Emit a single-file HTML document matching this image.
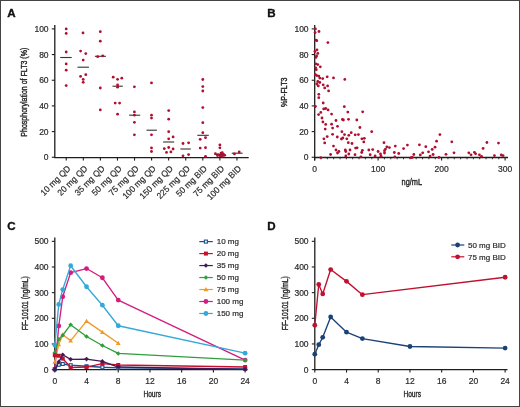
<!DOCTYPE html>
<html><head><meta charset="utf-8"><style>
html,body{margin:0;padding:0;background:#fff;}
body{width:520px;height:407px;overflow:hidden;}
#f{position:absolute;left:0;top:0;width:518px;height:405px;border:1px solid #444;background:#fff;}
svg{position:absolute;left:0;top:0;will-change:transform;}
text{font-family:"Liberation Sans", sans-serif;}
.c{font-size:9.5px;fill:#262626;stroke:#262626;stroke-width:0.4px;}
.t{stroke:#2a2a2a;stroke-width:0.2px;}
</style></head><body><div id="f"></div>
<svg width="520" height="407" viewBox="0 0 520 407" font-family='"Liberation Sans", sans-serif'>
<text x="7.2" y="17.3" font-size="11.6" font-weight="bold" fill="#111" stroke="#111" stroke-width="0.35">A</text>
<line x1="54.8" y1="25" x2="54.8" y2="157.9" stroke="#1e1e1e" stroke-width="1.3"/>
<line x1="51.8" y1="157.25" x2="54.8" y2="157.25" stroke="#1e1e1e" stroke-width="1.1"/>
<text x="48.6" y="160.25" font-size="8.5" text-anchor="end" fill="#2a2a2a" class="t">0</text>
<line x1="51.8" y1="131.58" x2="54.8" y2="131.58" stroke="#1e1e1e" stroke-width="1.1"/>
<text x="48.6" y="134.58" font-size="8.5" text-anchor="end" fill="#2a2a2a" class="t">20</text>
<line x1="51.8" y1="105.91" x2="54.8" y2="105.91" stroke="#1e1e1e" stroke-width="1.1"/>
<text x="48.6" y="108.91" font-size="8.5" text-anchor="end" fill="#2a2a2a" class="t">40</text>
<line x1="51.8" y1="80.24" x2="54.8" y2="80.24" stroke="#1e1e1e" stroke-width="1.1"/>
<text x="48.6" y="83.24" font-size="8.5" text-anchor="end" fill="#2a2a2a" class="t">60</text>
<line x1="51.8" y1="54.57" x2="54.8" y2="54.57" stroke="#1e1e1e" stroke-width="1.1"/>
<text x="48.6" y="57.57" font-size="8.5" text-anchor="end" fill="#2a2a2a" class="t">80</text>
<line x1="51.8" y1="28.9" x2="54.8" y2="28.9" stroke="#1e1e1e" stroke-width="1.1"/>
<text x="48.6" y="31.9" font-size="8.5" text-anchor="end" fill="#2a2a2a" class="t">100</text>
<line x1="54.2" y1="157.6" x2="248.7" y2="157.6" stroke="#1e1e1e" stroke-width="1.3"/>
<line x1="66.25" y1="157.6" x2="66.25" y2="160.6" stroke="#1e1e1e" stroke-width="1.1"/>
<text transform="translate(71.05,169.1) rotate(-45)" font-size="8.7" text-anchor="end" fill="#2a2a2a" class="t" textLength="38.26" lengthAdjust="spacingAndGlyphs">10 mg QD</text>
<line x1="83.32" y1="157.6" x2="83.32" y2="160.6" stroke="#1e1e1e" stroke-width="1.1"/>
<text transform="translate(88.12,169.1) rotate(-45)" font-size="8.7" text-anchor="end" fill="#2a2a2a" class="t" textLength="38.26" lengthAdjust="spacingAndGlyphs">20 mg QD</text>
<line x1="100.39" y1="157.6" x2="100.39" y2="160.6" stroke="#1e1e1e" stroke-width="1.1"/>
<text transform="translate(105.19,169.1) rotate(-45)" font-size="8.7" text-anchor="end" fill="#2a2a2a" class="t" textLength="38.26" lengthAdjust="spacingAndGlyphs">35 mg QD</text>
<line x1="117.46" y1="157.6" x2="117.46" y2="160.6" stroke="#1e1e1e" stroke-width="1.1"/>
<text transform="translate(122.26,169.1) rotate(-45)" font-size="8.7" text-anchor="end" fill="#2a2a2a" class="t" textLength="38.26" lengthAdjust="spacingAndGlyphs">50 mg QD</text>
<line x1="134.53" y1="157.6" x2="134.53" y2="160.6" stroke="#1e1e1e" stroke-width="1.1"/>
<text transform="translate(139.33,169.1) rotate(-45)" font-size="8.7" text-anchor="end" fill="#2a2a2a" class="t" textLength="38.26" lengthAdjust="spacingAndGlyphs">75 mg QD</text>
<line x1="151.6" y1="157.6" x2="151.6" y2="160.6" stroke="#1e1e1e" stroke-width="1.1"/>
<text transform="translate(156.4,169.1) rotate(-45)" font-size="8.7" text-anchor="end" fill="#2a2a2a" class="t" textLength="42.93" lengthAdjust="spacingAndGlyphs">100 mg QD</text>
<line x1="168.67" y1="157.6" x2="168.67" y2="160.6" stroke="#1e1e1e" stroke-width="1.1"/>
<text transform="translate(173.47,169.1) rotate(-45)" font-size="8.7" text-anchor="end" fill="#2a2a2a" class="t" textLength="42.93" lengthAdjust="spacingAndGlyphs">150 mg QD</text>
<line x1="185.74" y1="157.6" x2="185.74" y2="160.6" stroke="#1e1e1e" stroke-width="1.1"/>
<text transform="translate(190.54,169.1) rotate(-45)" font-size="8.7" text-anchor="end" fill="#2a2a2a" class="t" textLength="42.93" lengthAdjust="spacingAndGlyphs">225 mg QD</text>
<line x1="202.81" y1="157.6" x2="202.81" y2="160.6" stroke="#1e1e1e" stroke-width="1.1"/>
<text transform="translate(207.61,169.1) rotate(-45)" font-size="8.7" text-anchor="end" fill="#2a2a2a" class="t" textLength="39.66" lengthAdjust="spacingAndGlyphs">50 mg BID</text>
<line x1="219.88" y1="157.6" x2="219.88" y2="160.6" stroke="#1e1e1e" stroke-width="1.1"/>
<text transform="translate(224.68,169.1) rotate(-45)" font-size="8.7" text-anchor="end" fill="#2a2a2a" class="t" textLength="39.66" lengthAdjust="spacingAndGlyphs">75 mg BID</text>
<line x1="236.95" y1="157.6" x2="236.95" y2="160.6" stroke="#1e1e1e" stroke-width="1.1"/>
<text transform="translate(241.75,169.1) rotate(-45)" font-size="8.7" text-anchor="end" fill="#2a2a2a" class="t" textLength="44.33" lengthAdjust="spacingAndGlyphs">100 mg BID</text>
<text transform="translate(27.4,92.2) rotate(-90)" class="c" text-anchor="middle" textLength="89" lengthAdjust="spacingAndGlyphs">Phosphorylation of FLT3 (%)</text>
<line x1="60.2" y1="57.5" x2="71.7" y2="57.5" stroke="#333" stroke-width="1.1"/>
<line x1="77.5" y1="67.2" x2="88.9" y2="67.2" stroke="#333" stroke-width="1.1"/>
<line x1="94.9" y1="56.3" x2="105.9" y2="56.3" stroke="#333" stroke-width="1.1"/>
<line x1="112.5" y1="86.2" x2="122.8" y2="86.2" stroke="#333" stroke-width="1.1"/>
<line x1="129.2" y1="115.2" x2="140.2" y2="115.2" stroke="#333" stroke-width="1.1"/>
<line x1="146.5" y1="130.2" x2="156.9" y2="130.2" stroke="#333" stroke-width="1.1"/>
<line x1="163.1" y1="142" x2="174.2" y2="142" stroke="#333" stroke-width="1.1"/>
<line x1="180.4" y1="149" x2="190.8" y2="149" stroke="#333" stroke-width="1.1"/>
<line x1="197.3" y1="135.3" x2="208.8" y2="135.3" stroke="#333" stroke-width="1.1"/>
<line x1="214.5" y1="154.5" x2="225.2" y2="154.5" stroke="#333" stroke-width="1.1"/>
<line x1="231.8" y1="153.2" x2="242.6" y2="153.2" stroke="#333" stroke-width="1.1"/>
<circle cx="66.2" cy="28.95" r="1.4" fill="#b00e2e"/>
<circle cx="66.2" cy="33.4" r="1.4" fill="#b00e2e"/>
<circle cx="66.2" cy="52" r="1.4" fill="#b00e2e"/>
<circle cx="66.2" cy="63.9" r="1.4" fill="#b00e2e"/>
<circle cx="66.2" cy="70.2" r="1.4" fill="#b00e2e"/>
<circle cx="66.2" cy="85.6" r="1.4" fill="#b00e2e"/>
<circle cx="83" cy="32.9" r="1.4" fill="#b00e2e"/>
<circle cx="80.6" cy="51.1" r="1.4" fill="#b00e2e"/>
<circle cx="85.8" cy="53.6" r="1.4" fill="#b00e2e"/>
<circle cx="83.2" cy="60.1" r="1.4" fill="#b00e2e"/>
<circle cx="80.6" cy="76.4" r="1.4" fill="#b00e2e"/>
<circle cx="85.8" cy="74.7" r="1.4" fill="#b00e2e"/>
<circle cx="83.2" cy="79.4" r="1.4" fill="#b00e2e"/>
<circle cx="83.2" cy="82.3" r="1.4" fill="#b00e2e"/>
<circle cx="100.3" cy="31.7" r="1.4" fill="#b00e2e"/>
<circle cx="100.3" cy="41.2" r="1.4" fill="#b00e2e"/>
<circle cx="97.7" cy="56.7" r="1.4" fill="#b00e2e"/>
<circle cx="102.7" cy="55.8" r="1.4" fill="#b00e2e"/>
<circle cx="100.3" cy="88" r="1.4" fill="#b00e2e"/>
<circle cx="100.3" cy="109.9" r="1.4" fill="#b00e2e"/>
<circle cx="113.2" cy="77.2" r="1.4" fill="#b00e2e"/>
<circle cx="117.6" cy="79.3" r="1.4" fill="#b00e2e"/>
<circle cx="121.8" cy="78.2" r="1.4" fill="#b00e2e"/>
<circle cx="117.6" cy="85" r="1.4" fill="#b00e2e"/>
<circle cx="117.6" cy="87.2" r="1.4" fill="#b00e2e"/>
<circle cx="115.2" cy="103.1" r="1.4" fill="#b00e2e"/>
<circle cx="119.6" cy="103.1" r="1.4" fill="#b00e2e"/>
<circle cx="117.6" cy="114.2" r="1.4" fill="#b00e2e"/>
<circle cx="134.4" cy="86.8" r="1.4" fill="#b00e2e"/>
<circle cx="134.4" cy="111.9" r="1.4" fill="#b00e2e"/>
<circle cx="134.4" cy="115.2" r="1.4" fill="#b00e2e"/>
<circle cx="134.4" cy="122.3" r="1.4" fill="#b00e2e"/>
<circle cx="134.4" cy="134.8" r="1.4" fill="#b00e2e"/>
<circle cx="151.5" cy="82.9" r="1.4" fill="#b00e2e"/>
<circle cx="151.5" cy="115.2" r="1.4" fill="#b00e2e"/>
<circle cx="151.5" cy="118.1" r="1.4" fill="#b00e2e"/>
<circle cx="151.5" cy="134.8" r="1.4" fill="#b00e2e"/>
<circle cx="151.5" cy="147.9" r="1.4" fill="#b00e2e"/>
<circle cx="151.5" cy="151.5" r="1.4" fill="#b00e2e"/>
<circle cx="168.7" cy="110.6" r="1.4" fill="#b00e2e"/>
<circle cx="168.7" cy="119.2" r="1.4" fill="#b00e2e"/>
<circle cx="168.7" cy="131.7" r="1.4" fill="#b00e2e"/>
<circle cx="173.1" cy="136.9" r="1.4" fill="#b00e2e"/>
<circle cx="168.7" cy="138.8" r="1.4" fill="#b00e2e"/>
<circle cx="164.3" cy="148.7" r="1.4" fill="#b00e2e"/>
<circle cx="168.7" cy="147.5" r="1.4" fill="#b00e2e"/>
<circle cx="173.1" cy="149" r="1.4" fill="#b00e2e"/>
<circle cx="166.5" cy="152.4" r="1.4" fill="#b00e2e"/>
<circle cx="170.9" cy="151.9" r="1.4" fill="#b00e2e"/>
<circle cx="183" cy="143.5" r="1.4" fill="#b00e2e"/>
<circle cx="188.6" cy="142.8" r="1.4" fill="#b00e2e"/>
<circle cx="183" cy="155.8" r="1.4" fill="#b00e2e"/>
<circle cx="188.6" cy="154.6" r="1.4" fill="#b00e2e"/>
<circle cx="202.8" cy="79.5" r="1.4" fill="#b00e2e"/>
<circle cx="202.8" cy="86.6" r="1.4" fill="#b00e2e"/>
<circle cx="202.8" cy="91" r="1.4" fill="#b00e2e"/>
<circle cx="202.8" cy="107.6" r="1.4" fill="#b00e2e"/>
<circle cx="202.8" cy="122.7" r="1.4" fill="#b00e2e"/>
<circle cx="202.8" cy="132.7" r="1.4" fill="#b00e2e"/>
<circle cx="200.2" cy="139.3" r="1.4" fill="#b00e2e"/>
<circle cx="205.5" cy="137.7" r="1.4" fill="#b00e2e"/>
<circle cx="200.2" cy="148.1" r="1.4" fill="#b00e2e"/>
<circle cx="205.5" cy="147.7" r="1.4" fill="#b00e2e"/>
<circle cx="205.5" cy="156.3" r="1.4" fill="#b00e2e"/>
<circle cx="219.9" cy="144.9" r="1.4" fill="#b00e2e"/>
<circle cx="219.9" cy="147.8" r="1.4" fill="#b00e2e"/>
<circle cx="215.4" cy="153.6" r="1.4" fill="#b00e2e"/>
<circle cx="218" cy="154.7" r="1.4" fill="#b00e2e"/>
<circle cx="221" cy="153.2" r="1.4" fill="#b00e2e"/>
<circle cx="222.3" cy="152.7" r="1.4" fill="#b00e2e"/>
<circle cx="223.6" cy="154.5" r="1.4" fill="#b00e2e"/>
<circle cx="220" cy="155.8" r="1.4" fill="#b00e2e"/>
<circle cx="224.7" cy="155.3" r="1.4" fill="#b00e2e"/>
<circle cx="222.3" cy="156.2" r="1.4" fill="#b00e2e"/>
<circle cx="217.5" cy="155.5" r="1.4" fill="#b00e2e"/>
<circle cx="234.4" cy="153.9" r="1.4" fill="#b00e2e"/>
<circle cx="239.2" cy="152" r="1.4" fill="#b00e2e"/>
<text x="267.2" y="17.3" font-size="11.6" font-weight="bold" fill="#111" stroke="#111" stroke-width="0.35">B</text>
<line x1="314.7" y1="25" x2="314.7" y2="160.5" stroke="#1e1e1e" stroke-width="1.3"/>
<line x1="311.7" y1="157.25" x2="314.7" y2="157.25" stroke="#1e1e1e" stroke-width="1.1"/>
<text x="308.6" y="160.25" font-size="8.5" text-anchor="end" fill="#2a2a2a" class="t">0</text>
<line x1="311.7" y1="131.58" x2="314.7" y2="131.58" stroke="#1e1e1e" stroke-width="1.1"/>
<text x="308.6" y="134.58" font-size="8.5" text-anchor="end" fill="#2a2a2a" class="t">20</text>
<line x1="311.7" y1="105.91" x2="314.7" y2="105.91" stroke="#1e1e1e" stroke-width="1.1"/>
<text x="308.6" y="108.91" font-size="8.5" text-anchor="end" fill="#2a2a2a" class="t">40</text>
<line x1="311.7" y1="80.24" x2="314.7" y2="80.24" stroke="#1e1e1e" stroke-width="1.1"/>
<text x="308.6" y="83.24" font-size="8.5" text-anchor="end" fill="#2a2a2a" class="t">60</text>
<line x1="311.7" y1="54.57" x2="314.7" y2="54.57" stroke="#1e1e1e" stroke-width="1.1"/>
<text x="308.6" y="57.57" font-size="8.5" text-anchor="end" fill="#2a2a2a" class="t">80</text>
<line x1="311.7" y1="28.9" x2="314.7" y2="28.9" stroke="#1e1e1e" stroke-width="1.1"/>
<text x="308.6" y="31.9" font-size="8.5" text-anchor="end" fill="#2a2a2a" class="t">100</text>
<line x1="314" y1="157.5" x2="508" y2="157.5" stroke="#1e1e1e" stroke-width="1.3"/>
<line x1="314.6" y1="157.5" x2="314.6" y2="160.5" stroke="#1e1e1e" stroke-width="1.1"/>
<line x1="320.95" y1="157.5" x2="320.95" y2="159.3" stroke="#1e1e1e" stroke-width="0.9"/>
<line x1="327.3" y1="157.5" x2="327.3" y2="159.3" stroke="#1e1e1e" stroke-width="0.9"/>
<line x1="333.65" y1="157.5" x2="333.65" y2="159.3" stroke="#1e1e1e" stroke-width="0.9"/>
<line x1="340" y1="157.5" x2="340" y2="159.3" stroke="#1e1e1e" stroke-width="0.9"/>
<line x1="346.35" y1="157.5" x2="346.35" y2="159.3" stroke="#1e1e1e" stroke-width="0.9"/>
<line x1="352.7" y1="157.5" x2="352.7" y2="159.3" stroke="#1e1e1e" stroke-width="0.9"/>
<line x1="359.05" y1="157.5" x2="359.05" y2="159.3" stroke="#1e1e1e" stroke-width="0.9"/>
<line x1="365.4" y1="157.5" x2="365.4" y2="159.3" stroke="#1e1e1e" stroke-width="0.9"/>
<line x1="371.75" y1="157.5" x2="371.75" y2="159.3" stroke="#1e1e1e" stroke-width="0.9"/>
<line x1="378.1" y1="157.5" x2="378.1" y2="160.5" stroke="#1e1e1e" stroke-width="1.1"/>
<line x1="384.45" y1="157.5" x2="384.45" y2="159.3" stroke="#1e1e1e" stroke-width="0.9"/>
<line x1="390.8" y1="157.5" x2="390.8" y2="159.3" stroke="#1e1e1e" stroke-width="0.9"/>
<line x1="397.15" y1="157.5" x2="397.15" y2="159.3" stroke="#1e1e1e" stroke-width="0.9"/>
<line x1="403.5" y1="157.5" x2="403.5" y2="159.3" stroke="#1e1e1e" stroke-width="0.9"/>
<line x1="409.85" y1="157.5" x2="409.85" y2="159.3" stroke="#1e1e1e" stroke-width="0.9"/>
<line x1="416.2" y1="157.5" x2="416.2" y2="159.3" stroke="#1e1e1e" stroke-width="0.9"/>
<line x1="422.55" y1="157.5" x2="422.55" y2="159.3" stroke="#1e1e1e" stroke-width="0.9"/>
<line x1="428.9" y1="157.5" x2="428.9" y2="159.3" stroke="#1e1e1e" stroke-width="0.9"/>
<line x1="435.25" y1="157.5" x2="435.25" y2="159.3" stroke="#1e1e1e" stroke-width="0.9"/>
<line x1="441.6" y1="157.5" x2="441.6" y2="160.5" stroke="#1e1e1e" stroke-width="1.1"/>
<line x1="447.95" y1="157.5" x2="447.95" y2="159.3" stroke="#1e1e1e" stroke-width="0.9"/>
<line x1="454.3" y1="157.5" x2="454.3" y2="159.3" stroke="#1e1e1e" stroke-width="0.9"/>
<line x1="460.65" y1="157.5" x2="460.65" y2="159.3" stroke="#1e1e1e" stroke-width="0.9"/>
<line x1="467" y1="157.5" x2="467" y2="159.3" stroke="#1e1e1e" stroke-width="0.9"/>
<line x1="473.35" y1="157.5" x2="473.35" y2="159.3" stroke="#1e1e1e" stroke-width="0.9"/>
<line x1="479.7" y1="157.5" x2="479.7" y2="159.3" stroke="#1e1e1e" stroke-width="0.9"/>
<line x1="486.05" y1="157.5" x2="486.05" y2="159.3" stroke="#1e1e1e" stroke-width="0.9"/>
<line x1="492.4" y1="157.5" x2="492.4" y2="159.3" stroke="#1e1e1e" stroke-width="0.9"/>
<line x1="498.75" y1="157.5" x2="498.75" y2="159.3" stroke="#1e1e1e" stroke-width="0.9"/>
<line x1="505.1" y1="157.5" x2="505.1" y2="160.5" stroke="#1e1e1e" stroke-width="1.1"/>
<text x="314.6" y="172" font-size="8.5" text-anchor="middle" fill="#2a2a2a" class="t">0</text>
<text x="378.1" y="172" font-size="8.5" text-anchor="middle" fill="#2a2a2a" class="t">100</text>
<text x="441.6" y="172" font-size="8.5" text-anchor="middle" fill="#2a2a2a" class="t">200</text>
<text x="505.1" y="172" font-size="8.5" text-anchor="middle" fill="#2a2a2a" class="t">300</text>
<text x="411.8" y="185" class="c" text-anchor="middle" textLength="20.5" lengthAdjust="spacingAndGlyphs">ng/mL</text>
<text transform="translate(287.4,92.2) rotate(-90)" class="c" text-anchor="middle" textLength="29.5" lengthAdjust="spacingAndGlyphs">%P-FLT3</text>
<circle cx="315.4" cy="28.9" r="1.4" fill="#b00e2e"/>
<circle cx="315.1" cy="32.6" r="1.4" fill="#b00e2e"/>
<circle cx="319" cy="31.5" r="1.4" fill="#b00e2e"/>
<circle cx="315.9" cy="40.2" r="1.4" fill="#b00e2e"/>
<circle cx="316.8" cy="40.7" r="1.4" fill="#b00e2e"/>
<circle cx="327.9" cy="42.6" r="1.4" fill="#b00e2e"/>
<circle cx="317" cy="49.8" r="1.4" fill="#b00e2e"/>
<circle cx="314.9" cy="51.5" r="1.4" fill="#b00e2e"/>
<circle cx="317.8" cy="53.4" r="1.4" fill="#b00e2e"/>
<circle cx="316.6" cy="55.9" r="1.4" fill="#b00e2e"/>
<circle cx="315.9" cy="57.4" r="1.4" fill="#b00e2e"/>
<circle cx="315.9" cy="63.8" r="1.4" fill="#b00e2e"/>
<circle cx="317.8" cy="64.6" r="1.4" fill="#b00e2e"/>
<circle cx="320.3" cy="66.8" r="1.4" fill="#b00e2e"/>
<circle cx="315.7" cy="67.8" r="1.4" fill="#b00e2e"/>
<circle cx="316.3" cy="69.7" r="1.4" fill="#b00e2e"/>
<circle cx="315.4" cy="74.6" r="1.4" fill="#b00e2e"/>
<circle cx="316.8" cy="75.6" r="1.4" fill="#b00e2e"/>
<circle cx="318.8" cy="76.1" r="1.4" fill="#b00e2e"/>
<circle cx="327.2" cy="76.8" r="1.4" fill="#b00e2e"/>
<circle cx="333.5" cy="77.9" r="1.4" fill="#b00e2e"/>
<circle cx="344.8" cy="79.4" r="1.4" fill="#b00e2e"/>
<circle cx="319.8" cy="78.1" r="1.4" fill="#b00e2e"/>
<circle cx="322.7" cy="78.6" r="1.4" fill="#b00e2e"/>
<circle cx="317.8" cy="81.5" r="1.4" fill="#b00e2e"/>
<circle cx="319.8" cy="82.5" r="1.4" fill="#b00e2e"/>
<circle cx="316.8" cy="84" r="1.4" fill="#b00e2e"/>
<circle cx="323.2" cy="84.8" r="1.4" fill="#b00e2e"/>
<circle cx="327.6" cy="85.9" r="1.4" fill="#b00e2e"/>
<circle cx="324.7" cy="87.9" r="1.4" fill="#b00e2e"/>
<circle cx="318.3" cy="85.9" r="1.4" fill="#b00e2e"/>
<circle cx="328.6" cy="90.9" r="1.4" fill="#b00e2e"/>
<circle cx="318.8" cy="94.3" r="1.4" fill="#b00e2e"/>
<circle cx="318.8" cy="97.7" r="1.4" fill="#b00e2e"/>
<circle cx="323.2" cy="103" r="1.4" fill="#b00e2e"/>
<circle cx="315.4" cy="106.5" r="1.4" fill="#b00e2e"/>
<circle cx="323.7" cy="108.9" r="1.4" fill="#b00e2e"/>
<circle cx="325.7" cy="108.5" r="1.4" fill="#b00e2e"/>
<circle cx="328.1" cy="109.9" r="1.4" fill="#b00e2e"/>
<circle cx="344.3" cy="106.7" r="1.4" fill="#b00e2e"/>
<circle cx="320.8" cy="112.4" r="1.4" fill="#b00e2e"/>
<circle cx="318.6" cy="114.6" r="1.4" fill="#b00e2e"/>
<circle cx="331.6" cy="114.1" r="1.4" fill="#b00e2e"/>
<circle cx="347.8" cy="112.1" r="1.4" fill="#b00e2e"/>
<circle cx="322" cy="118" r="1.4" fill="#b00e2e"/>
<circle cx="322.9" cy="121.9" r="1.4" fill="#b00e2e"/>
<circle cx="325.7" cy="124.4" r="1.4" fill="#b00e2e"/>
<circle cx="331.6" cy="124.2" r="1.4" fill="#b00e2e"/>
<circle cx="336" cy="120.5" r="1.4" fill="#b00e2e"/>
<circle cx="342.4" cy="119.5" r="1.4" fill="#b00e2e"/>
<circle cx="343.4" cy="120" r="1.4" fill="#b00e2e"/>
<circle cx="348.5" cy="119.3" r="1.4" fill="#b00e2e"/>
<circle cx="356.8" cy="120" r="1.4" fill="#b00e2e"/>
<circle cx="337.5" cy="126.3" r="1.4" fill="#b00e2e"/>
<circle cx="332.6" cy="128.1" r="1.4" fill="#b00e2e"/>
<circle cx="325.2" cy="129.1" r="1.4" fill="#b00e2e"/>
<circle cx="341.9" cy="131.7" r="1.4" fill="#b00e2e"/>
<circle cx="344.5" cy="134.6" r="1.4" fill="#b00e2e"/>
<circle cx="351.2" cy="132.7" r="1.4" fill="#b00e2e"/>
<circle cx="348.8" cy="135.3" r="1.4" fill="#b00e2e"/>
<circle cx="355.2" cy="134.8" r="1.4" fill="#b00e2e"/>
<circle cx="332.6" cy="134.3" r="1.4" fill="#b00e2e"/>
<circle cx="327.2" cy="136.6" r="1.4" fill="#b00e2e"/>
<circle cx="323.9" cy="138.8" r="1.4" fill="#b00e2e"/>
<circle cx="337.3" cy="137" r="1.4" fill="#b00e2e"/>
<circle cx="341.4" cy="139" r="1.4" fill="#b00e2e"/>
<circle cx="342.9" cy="138" r="1.4" fill="#b00e2e"/>
<circle cx="346.8" cy="138.8" r="1.4" fill="#b00e2e"/>
<circle cx="324.7" cy="142.9" r="1.4" fill="#b00e2e"/>
<circle cx="348.3" cy="142.7" r="1.4" fill="#b00e2e"/>
<circle cx="352" cy="143.5" r="1.4" fill="#b00e2e"/>
<circle cx="333.5" cy="146.1" r="1.4" fill="#b00e2e"/>
<circle cx="336" cy="150" r="1.4" fill="#b00e2e"/>
<circle cx="338.9" cy="151.5" r="1.4" fill="#b00e2e"/>
<circle cx="337.5" cy="153" r="1.4" fill="#b00e2e"/>
<circle cx="345.3" cy="150" r="1.4" fill="#b00e2e"/>
<circle cx="345.8" cy="151.5" r="1.4" fill="#b00e2e"/>
<circle cx="350" cy="150" r="1.4" fill="#b00e2e"/>
<circle cx="355.6" cy="148.1" r="1.4" fill="#b00e2e"/>
<circle cx="357.1" cy="147.8" r="1.4" fill="#b00e2e"/>
<circle cx="330.6" cy="154.5" r="1.4" fill="#b00e2e"/>
<circle cx="348.8" cy="154" r="1.4" fill="#b00e2e"/>
<circle cx="355" cy="154.7" r="1.4" fill="#b00e2e"/>
<circle cx="345.8" cy="155.9" r="1.4" fill="#b00e2e"/>
<circle cx="320.8" cy="157.6" r="1.4" fill="#b00e2e"/>
<circle cx="362.7" cy="111.8" r="1.4" fill="#b00e2e"/>
<circle cx="359.9" cy="127.5" r="1.4" fill="#b00e2e"/>
<circle cx="371.7" cy="131.7" r="1.4" fill="#b00e2e"/>
<circle cx="358.4" cy="134.6" r="1.4" fill="#b00e2e"/>
<circle cx="361.9" cy="138.8" r="1.4" fill="#b00e2e"/>
<circle cx="364.3" cy="138.3" r="1.4" fill="#b00e2e"/>
<circle cx="363.8" cy="141.9" r="1.4" fill="#b00e2e"/>
<circle cx="384" cy="142.7" r="1.4" fill="#b00e2e"/>
<circle cx="395.3" cy="146.1" r="1.4" fill="#b00e2e"/>
<circle cx="386.9" cy="146.8" r="1.4" fill="#b00e2e"/>
<circle cx="389.4" cy="147.6" r="1.4" fill="#b00e2e"/>
<circle cx="385.5" cy="149.1" r="1.4" fill="#b00e2e"/>
<circle cx="384.5" cy="150.7" r="1.4" fill="#b00e2e"/>
<circle cx="384.5" cy="153" r="1.4" fill="#b00e2e"/>
<circle cx="362.4" cy="150.3" r="1.4" fill="#b00e2e"/>
<circle cx="361.7" cy="152.5" r="1.4" fill="#b00e2e"/>
<circle cx="368.8" cy="150" r="1.4" fill="#b00e2e"/>
<circle cx="372.7" cy="149.6" r="1.4" fill="#b00e2e"/>
<circle cx="378.1" cy="151.5" r="1.4" fill="#b00e2e"/>
<circle cx="380.5" cy="154" r="1.4" fill="#b00e2e"/>
<circle cx="370.2" cy="154.7" r="1.4" fill="#b00e2e"/>
<circle cx="375.1" cy="155.9" r="1.4" fill="#b00e2e"/>
<circle cx="381" cy="156.2" r="1.4" fill="#b00e2e"/>
<circle cx="394.3" cy="152.5" r="1.4" fill="#b00e2e"/>
<circle cx="398.7" cy="153.5" r="1.4" fill="#b00e2e"/>
<circle cx="403.6" cy="148.6" r="1.4" fill="#b00e2e"/>
<circle cx="394.8" cy="156.9" r="1.4" fill="#b00e2e"/>
<circle cx="360.9" cy="156.9" r="1.4" fill="#b00e2e"/>
<circle cx="407.4" cy="145.1" r="1.4" fill="#b00e2e"/>
<circle cx="419.4" cy="144.8" r="1.4" fill="#b00e2e"/>
<circle cx="425.8" cy="146.7" r="1.4" fill="#b00e2e"/>
<circle cx="436.6" cy="141.2" r="1.4" fill="#b00e2e"/>
<circle cx="439.9" cy="134.6" r="1.4" fill="#b00e2e"/>
<circle cx="451.8" cy="141.8" r="1.4" fill="#b00e2e"/>
<circle cx="435" cy="147.2" r="1.4" fill="#b00e2e"/>
<circle cx="432.2" cy="149.4" r="1.4" fill="#b00e2e"/>
<circle cx="428.5" cy="151.8" r="1.4" fill="#b00e2e"/>
<circle cx="422.7" cy="152.8" r="1.4" fill="#b00e2e"/>
<circle cx="420.3" cy="154.9" r="1.4" fill="#b00e2e"/>
<circle cx="413.8" cy="154.5" r="1.4" fill="#b00e2e"/>
<circle cx="411" cy="157.7" r="1.4" fill="#b00e2e"/>
<circle cx="412.3" cy="157.4" r="1.4" fill="#b00e2e"/>
<circle cx="430.1" cy="156.1" r="1.4" fill="#b00e2e"/>
<circle cx="433.1" cy="154.5" r="1.4" fill="#b00e2e"/>
<circle cx="439" cy="157.4" r="1.4" fill="#b00e2e"/>
<circle cx="446" cy="154.3" r="1.4" fill="#b00e2e"/>
<circle cx="454" cy="152.8" r="1.4" fill="#b00e2e"/>
<circle cx="468.8" cy="152.8" r="1.4" fill="#b00e2e"/>
<circle cx="471" cy="154.8" r="1.4" fill="#b00e2e"/>
<circle cx="474.4" cy="152.3" r="1.4" fill="#b00e2e"/>
<circle cx="475.6" cy="153.8" r="1.4" fill="#b00e2e"/>
<circle cx="479.4" cy="154.8" r="1.4" fill="#b00e2e"/>
<circle cx="481.5" cy="156.3" r="1.4" fill="#b00e2e"/>
<circle cx="483.1" cy="148.4" r="1.4" fill="#b00e2e"/>
<circle cx="486.9" cy="142.5" r="1.4" fill="#b00e2e"/>
<circle cx="494.4" cy="155.6" r="1.4" fill="#b00e2e"/>
<circle cx="498.5" cy="143.1" r="1.4" fill="#b00e2e"/>
<circle cx="501.3" cy="155" r="1.4" fill="#b00e2e"/>
<circle cx="503.1" cy="155.6" r="1.4" fill="#b00e2e"/>
<text x="7.2" y="230.1" font-size="11.6" font-weight="bold" fill="#111" stroke="#111" stroke-width="0.35">C</text>
<line x1="54.8" y1="237.5" x2="54.8" y2="370.2" stroke="#1e1e1e" stroke-width="1.3"/>
<line x1="51.8" y1="369.6" x2="54.8" y2="369.6" stroke="#1e1e1e" stroke-width="1.1"/>
<text x="48.6" y="372.6" font-size="8.5" text-anchor="end" fill="#2a2a2a" class="t">0</text>
<line x1="51.8" y1="343.95" x2="54.8" y2="343.95" stroke="#1e1e1e" stroke-width="1.1"/>
<text x="48.6" y="346.95" font-size="8.5" text-anchor="end" fill="#2a2a2a" class="t">100</text>
<line x1="51.8" y1="318.3" x2="54.8" y2="318.3" stroke="#1e1e1e" stroke-width="1.1"/>
<text x="48.6" y="321.3" font-size="8.5" text-anchor="end" fill="#2a2a2a" class="t">200</text>
<line x1="51.8" y1="292.65" x2="54.8" y2="292.65" stroke="#1e1e1e" stroke-width="1.1"/>
<text x="48.6" y="295.65" font-size="8.5" text-anchor="end" fill="#2a2a2a" class="t">300</text>
<line x1="51.8" y1="267" x2="54.8" y2="267" stroke="#1e1e1e" stroke-width="1.1"/>
<text x="48.6" y="270" font-size="8.5" text-anchor="end" fill="#2a2a2a" class="t">400</text>
<line x1="51.8" y1="241.35" x2="54.8" y2="241.35" stroke="#1e1e1e" stroke-width="1.1"/>
<text x="48.6" y="244.35" font-size="8.5" text-anchor="end" fill="#2a2a2a" class="t">500</text>
<line x1="54.2" y1="369.6" x2="247.5" y2="369.6" stroke="#1e1e1e" stroke-width="1.3"/>
<line x1="54.8" y1="369.6" x2="54.8" y2="372.6" stroke="#1e1e1e" stroke-width="1.1"/>
<text x="54.8" y="384" font-size="8.5" text-anchor="middle" fill="#2a2a2a" class="t">0</text>
<line x1="86.52" y1="369.6" x2="86.52" y2="372.6" stroke="#1e1e1e" stroke-width="1.1"/>
<text x="86.52" y="384" font-size="8.5" text-anchor="middle" fill="#2a2a2a" class="t">4</text>
<line x1="118.24" y1="369.6" x2="118.24" y2="372.6" stroke="#1e1e1e" stroke-width="1.1"/>
<text x="118.24" y="384" font-size="8.5" text-anchor="middle" fill="#2a2a2a" class="t">8</text>
<line x1="149.96" y1="369.6" x2="149.96" y2="372.6" stroke="#1e1e1e" stroke-width="1.1"/>
<text x="149.96" y="384" font-size="8.5" text-anchor="middle" fill="#2a2a2a" class="t">12</text>
<line x1="181.68" y1="369.6" x2="181.68" y2="372.6" stroke="#1e1e1e" stroke-width="1.1"/>
<text x="181.68" y="384" font-size="8.5" text-anchor="middle" fill="#2a2a2a" class="t">16</text>
<line x1="213.4" y1="369.6" x2="213.4" y2="372.6" stroke="#1e1e1e" stroke-width="1.1"/>
<text x="213.4" y="384" font-size="8.5" text-anchor="middle" fill="#2a2a2a" class="t">20</text>
<line x1="245.12" y1="369.6" x2="245.12" y2="372.6" stroke="#1e1e1e" stroke-width="1.1"/>
<text x="245.12" y="384" font-size="8.5" text-anchor="middle" fill="#2a2a2a" class="t">24</text>
<text x="152.2" y="396.9" class="c" text-anchor="middle" textLength="17.5" lengthAdjust="spacingAndGlyphs">Hours</text>
<text transform="translate(28.2,303.2) rotate(-90)" class="c" text-anchor="middle" textLength="54" lengthAdjust="spacingAndGlyphs">FF-10101 (ng/mL)</text>
<polyline points="54.8,369.6 58.77,326 62.73,296.75 70.66,272.64 86.52,268.54 102.38,277.77 118.24,300.09 245.12,360.11" fill="none" stroke="#d21d7f" stroke-width="1.35" stroke-linejoin="round"/>
<circle cx="54.8" cy="369.6" r="2.4" fill="#d21d7f"/>
<circle cx="58.77" cy="326" r="2.4" fill="#d21d7f"/>
<circle cx="62.73" cy="296.75" r="2.4" fill="#d21d7f"/>
<circle cx="70.66" cy="272.64" r="2.4" fill="#d21d7f"/>
<circle cx="86.52" cy="268.54" r="2.4" fill="#d21d7f"/>
<circle cx="102.38" cy="277.77" r="2.4" fill="#d21d7f"/>
<circle cx="118.24" cy="300.09" r="2.4" fill="#d21d7f"/>
<circle cx="245.12" cy="360.11" r="2.4" fill="#d21d7f"/>
<polyline points="54.8,344.98 58.77,304.45 62.73,289.57 70.66,265.72 86.52,286.75 102.38,305.22 118.24,325.74 245.12,353.18" fill="none" stroke="#34a9d9" stroke-width="1.35" stroke-linejoin="round"/>
<circle cx="54.8" cy="344.98" r="2.4" fill="#34a9d9"/>
<circle cx="58.77" cy="304.45" r="2.4" fill="#34a9d9"/>
<circle cx="62.73" cy="289.57" r="2.4" fill="#34a9d9"/>
<circle cx="70.66" cy="265.72" r="2.4" fill="#34a9d9"/>
<circle cx="86.52" cy="286.75" r="2.4" fill="#34a9d9"/>
<circle cx="102.38" cy="305.22" r="2.4" fill="#34a9d9"/>
<circle cx="118.24" cy="325.74" r="2.4" fill="#34a9d9"/>
<circle cx="245.12" cy="353.18" r="2.4" fill="#34a9d9"/>
<polyline points="54.8,361.91 58.77,344.46 62.73,334.72 70.66,340.62 86.52,321.12 102.38,332.15 118.24,343.18" fill="none" stroke="#f09a2a" stroke-width="1.35" stroke-linejoin="round"/>
<path d="M54.8 359.51L57.2 363.71L52.4 363.71Z" fill="#f09a2a"/>
<path d="M58.77 342.06L61.16 346.26L56.37 346.26Z" fill="#f09a2a"/>
<path d="M62.73 332.32L65.13 336.52L60.33 336.52Z" fill="#f09a2a"/>
<path d="M70.66 338.22L73.06 342.42L68.26 342.42Z" fill="#f09a2a"/>
<path d="M86.52 318.72L88.92 322.92L84.12 322.92Z" fill="#f09a2a"/>
<path d="M102.38 329.75L104.78 333.95L99.98 333.95Z" fill="#f09a2a"/>
<path d="M118.24 340.78L120.64 344.98L115.84 344.98Z" fill="#f09a2a"/>
<polyline points="54.8,352.67 58.77,339.33 62.73,335.23 70.66,324.71 86.52,336.51 102.38,345.49 118.24,353.44 245.12,360.11" fill="none" stroke="#2f9e3c" stroke-width="1.35" stroke-linejoin="round"/>
<path d="M54.8 350.37L57.1 352.67L54.8 354.97L52.5 352.67Z" fill="#2f9e3c"/>
<path d="M58.77 337.03L61.06 339.33L58.77 341.63L56.47 339.33Z" fill="#2f9e3c"/>
<path d="M62.73 332.93L65.03 335.23L62.73 337.53L60.43 335.23Z" fill="#2f9e3c"/>
<path d="M70.66 322.41L72.96 324.71L70.66 327.01L68.36 324.71Z" fill="#2f9e3c"/>
<path d="M86.52 334.21L88.82 336.51L86.52 338.81L84.22 336.51Z" fill="#2f9e3c"/>
<path d="M102.38 343.19L104.68 345.49L102.38 347.79L100.08 345.49Z" fill="#2f9e3c"/>
<path d="M118.24 351.14L120.54 353.44L118.24 355.74L115.94 353.44Z" fill="#2f9e3c"/>
<path d="M245.12 357.81L247.42 360.11L245.12 362.41L242.82 360.11Z" fill="#2f9e3c"/>
<polyline points="54.8,369.09 58.77,364.73 62.73,363.96 70.66,365.24 86.52,366.27 102.38,367.29 118.24,367.8 245.12,368.83" fill="none" stroke="#1d4f8f" stroke-width="1.35" stroke-linejoin="round"/>
<rect x="53.3" y="367.59" width="3" height="3" fill="#fff" stroke="#1d4f8f" stroke-width="1.1"/>
<rect x="57.27" y="363.23" width="3" height="3" fill="#fff" stroke="#1d4f8f" stroke-width="1.1"/>
<rect x="61.23" y="362.46" width="3" height="3" fill="#fff" stroke="#1d4f8f" stroke-width="1.1"/>
<rect x="69.16" y="363.74" width="3" height="3" fill="#fff" stroke="#1d4f8f" stroke-width="1.1"/>
<rect x="85.02" y="364.77" width="3" height="3" fill="#fff" stroke="#1d4f8f" stroke-width="1.1"/>
<rect x="100.88" y="365.79" width="3" height="3" fill="#fff" stroke="#1d4f8f" stroke-width="1.1"/>
<rect x="116.74" y="366.3" width="3" height="3" fill="#fff" stroke="#1d4f8f" stroke-width="1.1"/>
<rect x="243.62" y="367.33" width="3" height="3" fill="#fff" stroke="#1d4f8f" stroke-width="1.1"/>
<polyline points="54.8,355.24 58.77,355.75 62.73,358.57 70.66,367.55 86.52,367.04 102.38,363.7 118.24,364.98 245.12,367.04" fill="none" stroke="#c4102e" stroke-width="1.35" stroke-linejoin="round"/>
<rect x="52.8" y="353.24" width="4" height="4" fill="#c4102e"/>
<rect x="56.77" y="353.75" width="4" height="4" fill="#c4102e"/>
<rect x="60.73" y="356.57" width="4" height="4" fill="#c4102e"/>
<rect x="68.66" y="365.55" width="4" height="4" fill="#c4102e"/>
<rect x="84.52" y="365.04" width="4" height="4" fill="#c4102e"/>
<rect x="100.38" y="361.7" width="4" height="4" fill="#c4102e"/>
<rect x="116.24" y="362.98" width="4" height="4" fill="#c4102e"/>
<rect x="243.12" y="365.04" width="4" height="4" fill="#c4102e"/>
<polyline points="54.8,369.6 58.77,361.91 62.73,354.72 70.66,359.34 86.52,359.08 102.38,361.39 118.24,367.04 245.12,369.34" fill="none" stroke="#431955" stroke-width="1.35" stroke-linejoin="round"/>
<path d="M54.8 367.3L57.1 369.6L54.8 371.9L52.5 369.6Z" fill="#431955"/>
<path d="M58.77 359.61L61.06 361.91L58.77 364.21L56.47 361.91Z" fill="#431955"/>
<path d="M62.73 352.42L65.03 354.72L62.73 357.02L60.43 354.72Z" fill="#431955"/>
<path d="M70.66 357.04L72.96 359.34L70.66 361.64L68.36 359.34Z" fill="#431955"/>
<path d="M86.52 356.78L88.82 359.08L86.52 361.38L84.22 359.08Z" fill="#431955"/>
<path d="M102.38 359.09L104.68 361.39L102.38 363.69L100.08 361.39Z" fill="#431955"/>
<path d="M118.24 364.74L120.54 367.04L118.24 369.34L115.94 367.04Z" fill="#431955"/>
<path d="M245.12 367.04L247.42 369.34L245.12 371.64L242.82 369.34Z" fill="#431955"/>
<line x1="199.3" y1="241.6" x2="212.8" y2="241.6" stroke="#1d4f8f" stroke-width="1.2"/>
<rect x="204.4" y="240.1" width="3" height="3" fill="#fff" stroke="#1d4f8f" stroke-width="1.1"/>
<text x="216.7" y="244.3" font-size="8" fill="#2a2a2a" class="t">10 mg</text>
<line x1="199.3" y1="253.58" x2="212.8" y2="253.58" stroke="#c4102e" stroke-width="1.2"/>
<rect x="203.9" y="251.58" width="4" height="4" fill="#c4102e"/>
<text x="216.7" y="256.28" font-size="8" fill="#2a2a2a" class="t">20 mg</text>
<line x1="199.3" y1="265.56" x2="212.8" y2="265.56" stroke="#431955" stroke-width="1.2"/>
<path d="M205.9 263.26L208.2 265.56L205.9 267.86L203.6 265.56Z" fill="#431955"/>
<text x="216.7" y="268.26" font-size="8" fill="#2a2a2a" class="t">35 mg</text>
<line x1="199.3" y1="277.54" x2="212.8" y2="277.54" stroke="#2f9e3c" stroke-width="1.2"/>
<path d="M205.9 275.24L208.2 277.54L205.9 279.84L203.6 277.54Z" fill="#2f9e3c"/>
<text x="216.7" y="280.24" font-size="8" fill="#2a2a2a" class="t">50 mg</text>
<line x1="199.3" y1="289.52" x2="212.8" y2="289.52" stroke="#f09a2a" stroke-width="1.2"/>
<path d="M205.9 287.12L208.3 291.32L203.5 291.32Z" fill="#f09a2a"/>
<text x="216.7" y="292.22" font-size="8" fill="#2a2a2a" class="t">75 mg</text>
<line x1="199.3" y1="301.5" x2="212.8" y2="301.5" stroke="#d21d7f" stroke-width="1.2"/>
<circle cx="205.9" cy="301.5" r="2.4" fill="#d21d7f"/>
<text x="216.7" y="304.2" font-size="8" fill="#2a2a2a" class="t">100 mg</text>
<line x1="199.3" y1="313.48" x2="212.8" y2="313.48" stroke="#34a9d9" stroke-width="1.2"/>
<circle cx="205.9" cy="313.48" r="2.4" fill="#34a9d9"/>
<text x="216.7" y="316.18" font-size="8" fill="#2a2a2a" class="t">150 mg</text>
<text x="267.2" y="230.1" font-size="11.6" font-weight="bold" fill="#111" stroke="#111" stroke-width="0.35">D</text>
<line x1="314.8" y1="237.5" x2="314.8" y2="370.2" stroke="#1e1e1e" stroke-width="1.3"/>
<line x1="311.8" y1="369.6" x2="314.8" y2="369.6" stroke="#1e1e1e" stroke-width="1.1"/>
<text x="308.6" y="372.6" font-size="8.5" text-anchor="end" fill="#2a2a2a" class="t">0</text>
<line x1="311.8" y1="343.95" x2="314.8" y2="343.95" stroke="#1e1e1e" stroke-width="1.1"/>
<text x="308.6" y="346.95" font-size="8.5" text-anchor="end" fill="#2a2a2a" class="t">100</text>
<line x1="311.8" y1="318.3" x2="314.8" y2="318.3" stroke="#1e1e1e" stroke-width="1.1"/>
<text x="308.6" y="321.3" font-size="8.5" text-anchor="end" fill="#2a2a2a" class="t">200</text>
<line x1="311.8" y1="292.65" x2="314.8" y2="292.65" stroke="#1e1e1e" stroke-width="1.1"/>
<text x="308.6" y="295.65" font-size="8.5" text-anchor="end" fill="#2a2a2a" class="t">300</text>
<line x1="311.8" y1="267" x2="314.8" y2="267" stroke="#1e1e1e" stroke-width="1.1"/>
<text x="308.6" y="270" font-size="8.5" text-anchor="end" fill="#2a2a2a" class="t">400</text>
<line x1="311.8" y1="241.35" x2="314.8" y2="241.35" stroke="#1e1e1e" stroke-width="1.1"/>
<text x="308.6" y="244.35" font-size="8.5" text-anchor="end" fill="#2a2a2a" class="t">500</text>
<line x1="314.2" y1="369.6" x2="507.5" y2="369.6" stroke="#1e1e1e" stroke-width="1.3"/>
<line x1="314.8" y1="369.6" x2="314.8" y2="372.6" stroke="#1e1e1e" stroke-width="1.1"/>
<text x="314.8" y="384" font-size="8.5" text-anchor="middle" fill="#2a2a2a" class="t">0</text>
<line x1="346.52" y1="369.6" x2="346.52" y2="372.6" stroke="#1e1e1e" stroke-width="1.1"/>
<text x="346.52" y="384" font-size="8.5" text-anchor="middle" fill="#2a2a2a" class="t">4</text>
<line x1="378.24" y1="369.6" x2="378.24" y2="372.6" stroke="#1e1e1e" stroke-width="1.1"/>
<text x="378.24" y="384" font-size="8.5" text-anchor="middle" fill="#2a2a2a" class="t">8</text>
<line x1="409.96" y1="369.6" x2="409.96" y2="372.6" stroke="#1e1e1e" stroke-width="1.1"/>
<text x="409.96" y="384" font-size="8.5" text-anchor="middle" fill="#2a2a2a" class="t">12</text>
<line x1="441.68" y1="369.6" x2="441.68" y2="372.6" stroke="#1e1e1e" stroke-width="1.1"/>
<text x="441.68" y="384" font-size="8.5" text-anchor="middle" fill="#2a2a2a" class="t">16</text>
<line x1="473.4" y1="369.6" x2="473.4" y2="372.6" stroke="#1e1e1e" stroke-width="1.1"/>
<text x="473.4" y="384" font-size="8.5" text-anchor="middle" fill="#2a2a2a" class="t">20</text>
<line x1="505.12" y1="369.6" x2="505.12" y2="372.6" stroke="#1e1e1e" stroke-width="1.1"/>
<text x="505.12" y="384" font-size="8.5" text-anchor="middle" fill="#2a2a2a" class="t">24</text>
<text x="412.2" y="396.9" class="c" text-anchor="middle" textLength="17.5" lengthAdjust="spacingAndGlyphs">Hours</text>
<text transform="translate(288.2,303.2) rotate(-90)" class="c" text-anchor="middle" textLength="54" lengthAdjust="spacingAndGlyphs">FF-10101 (ng/mL)</text>
<polyline points="314.8,354.21 318.76,344.72 322.73,337.28 330.66,317.02 346.52,332.15 362.38,338.56 409.96,346.52 505.12,348.05" fill="none" stroke="#1a4275" stroke-width="1.35" stroke-linejoin="round"/>
<circle cx="314.8" cy="354.21" r="2.4" fill="#1a4275"/>
<circle cx="318.76" cy="344.72" r="2.4" fill="#1a4275"/>
<circle cx="322.73" cy="337.28" r="2.4" fill="#1a4275"/>
<circle cx="330.66" cy="317.02" r="2.4" fill="#1a4275"/>
<circle cx="346.52" cy="332.15" r="2.4" fill="#1a4275"/>
<circle cx="362.38" cy="338.56" r="2.4" fill="#1a4275"/>
<circle cx="409.96" cy="346.52" r="2.4" fill="#1a4275"/>
<circle cx="505.12" cy="348.05" r="2.4" fill="#1a4275"/>
<polyline points="314.8,325.23 318.76,284.44 322.73,293.93 330.66,269.57 346.52,281.36 362.38,294.7 505.12,277.26" fill="none" stroke="#c0112f" stroke-width="1.35" stroke-linejoin="round"/>
<circle cx="314.8" cy="325.23" r="2.4" fill="#c0112f"/>
<circle cx="318.76" cy="284.44" r="2.4" fill="#c0112f"/>
<circle cx="322.73" cy="293.93" r="2.4" fill="#c0112f"/>
<circle cx="330.66" cy="269.57" r="2.4" fill="#c0112f"/>
<circle cx="346.52" cy="281.36" r="2.4" fill="#c0112f"/>
<circle cx="362.38" cy="294.7" r="2.4" fill="#c0112f"/>
<circle cx="505.12" cy="277.26" r="2.4" fill="#c0112f"/>
<line x1="451.3" y1="245" x2="464.3" y2="245" stroke="#1a4275" stroke-width="1.2"/>
<circle cx="457.6" cy="245" r="2.4" fill="#1a4275"/>
<text x="468" y="247.8" font-size="8" fill="#2a2a2a" class="t">50 mg BID</text>
<line x1="451.3" y1="256.8" x2="464.3" y2="256.8" stroke="#c0112f" stroke-width="1.2"/>
<circle cx="457.6" cy="256.8" r="2.4" fill="#c0112f"/>
<text x="468" y="259.6" font-size="8" fill="#2a2a2a" class="t">75 mg BID</text>
</svg></body></html>
